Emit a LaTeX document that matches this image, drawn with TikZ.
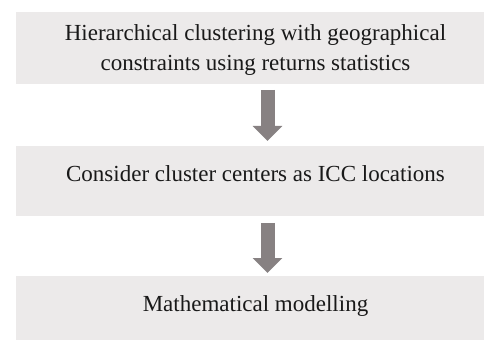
\documentclass[tikz,border=0pt]{standalone}
\usepackage{fontspec}
\setmainfont{Liberation Serif}
\usetikzlibrary{arrows.meta}
\definecolor{boxgray}{HTML}{ECEAEA}
\definecolor{arrgray}{HTML}{878182}
\begin{document}
\begin{tikzpicture}[x=1pt,y=1pt,
  box/.style={fill=boxgray, draw=none, minimum width=468pt, inner sep=0pt, outer sep=0pt},
  lbl/.style={font=\fontsize{23}{30}\selectfont, align=center, inner sep=0pt, text=black!90},
  flow/.style={draw=arrgray, line width=14pt, -{Triangle[width=29pt,length=15pt]}}]
\useasboundingbox (0,0) rectangle (484,340);
\node[box, minimum height=72pt] (b1) at (250,292) {};
\node[box, minimum height=70pt] (b2) at (250,159) {};
\node[box, minimum height=64pt] (b3) at (250,32) {};
\node[lbl] (t1) at (255.5,290) {Hierarchical clustering with geographical\\constraints using returns statistics};
\node[lbl] (t2) at (255.5,166) {Consider cluster centers as ICC locations};
\node[lbl] (t3) at (255.5,34) {Mathematical modelling};
\draw[flow, shorten <=6pt, shorten >=5pt] ([xshift=17.5pt]b1.south) -- ([xshift=17.5pt]b2.north);
\draw[flow, shorten <=7pt, shorten >=3pt] ([xshift=17.5pt]b2.south) -- ([xshift=17.5pt]b3.north);
\end{tikzpicture}
\end{document}
